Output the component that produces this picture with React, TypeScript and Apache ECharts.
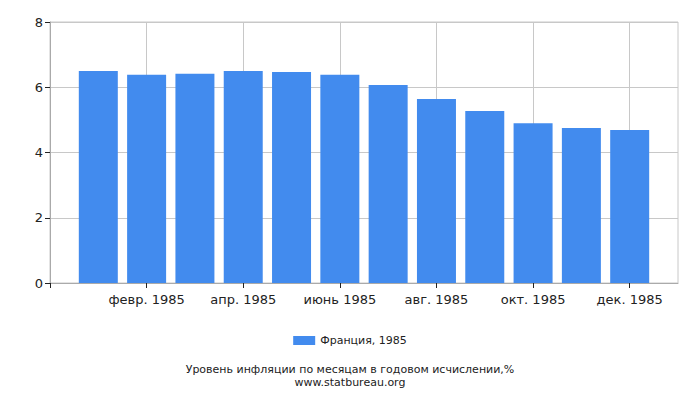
import * as echarts from "echarts";
import { useEffect, useRef } from "react";

const months = [
  "янв. 1985",
  "февр. 1985",
  "март 1985",
  "апр. 1985",
  "май 1985",
  "июнь 1985",
  "июль 1985",
  "авг. 1985",
  "сент. 1985",
  "окт. 1985",
  "нояб. 1985",
  "дек. 1985",
];
const values = [6.5, 6.38, 6.41, 6.5, 6.47, 6.38, 6.07, 5.64, 5.27, 4.9, 4.75, 4.69];
const seriesName = "Франция, 1985";
const title = "Уровень инфляции по месяцам в годовом исчислении,%";
const source = "www.statbureau.org";

export default function App() {
  const box = useRef<HTMLDivElement>(null);

  useEffect(() => {
    if (!box.current) return;
    const c = echarts.init(box.current, undefined, { renderer: "svg" });
    // пустые слоты по краям: ось начинается на "нулевом" месяце
    const cats = ["", ...months, ""];
    const data = [null, ...values, null];
    const font = "DejaVu Sans";
    const small = { color: "#222", fontSize: 11, fontWeight: "normal", fontFamily: font, lineHeight: 11 };
    c.setOption({
      animation: false,
      textStyle: { fontFamily: font },
      grid: {
        left: 50,
        right: 22,
        top: 22,
        bottom: 117,
        show: true,
        borderColor: "#c8c8c8",
        borderWidth: 1,
      },
      legend: {
        top: 330,
        left: "center",
        itemWidth: 22,
        itemHeight: 9,
        itemGap: 4,
        textStyle: { color: "#222", fontSize: 11, fontFamily: font },
        data: [{ name: seriesName, icon: "rect" }],
      },
      title: [
        { text: title, left: "center", top: 364, padding: 0, textStyle: small },
        { text: source, left: "center", top: 377, padding: 0, textStyle: small },
      ],
      xAxis: {
        type: "category",
        data: cats,
        boundaryGap: false,
        axisLine: { lineStyle: { color: "#aaa" } },
        axisTick: { interval: 1, length: 5, lineStyle: { color: "#222" } },
        axisLabel: { interval: 1, color: "#222", fontSize: 13, margin: 10 },
        splitLine: { show: true, interval: 1, lineStyle: { color: "#c8c8c8" } },
      },
      yAxis: {
        type: "value",
        min: 0,
        max: 8,
        interval: 2,
        axisLine: { show: true, lineStyle: { color: "#aaa" } },
        axisTick: { show: true, length: 5, lineStyle: { color: "#222" } },
        axisLabel: { color: "#222", fontSize: 13, margin: 7 },
        splitLine: { lineStyle: { color: "#c8c8c8" } },
      },
      series: [
        {
          name: seriesName,
          type: "bar",
          data,
          barWidth: 39,
          itemStyle: { color: "#428bee" },
        },
      ],
    });
    return () => c.dispose();
  }, []);

  return <div ref={box} style={{ width: 700, height: 400, margin: -8 }} />;
}
